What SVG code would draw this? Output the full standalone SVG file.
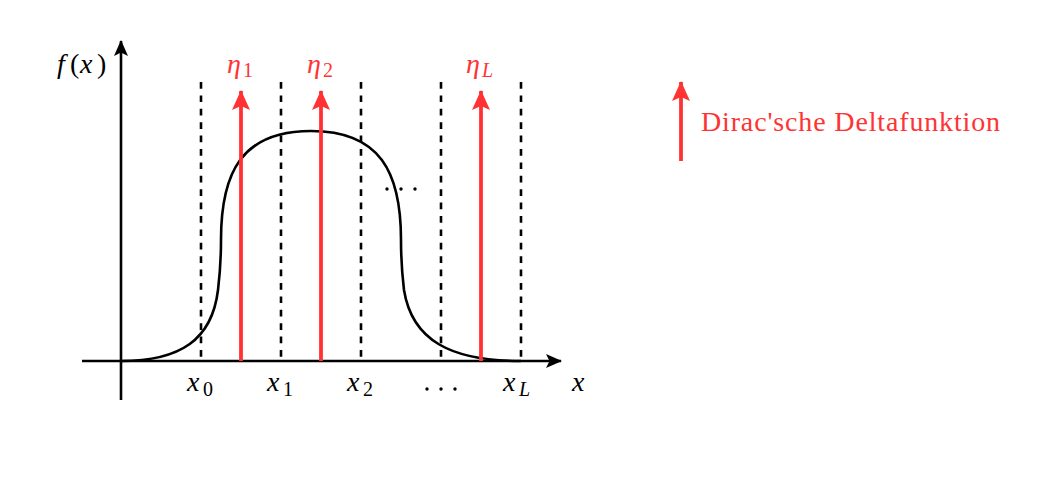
<svg xmlns="http://www.w3.org/2000/svg" width="1043" height="483" viewBox="0 0 1043 483">
<style>
.ax{stroke:#000;stroke-width:2.6;fill:none}
.dash{stroke:#000;stroke-width:2.6;stroke-dasharray:6.7 6.7;fill:none}
.red{stroke:#ff3333;stroke-width:3.8;fill:none}
.m{font-family:"Liberation Serif","DejaVu Serif",serif;font-style:italic;font-size:28px;fill:#000}
.n{font-family:"Liberation Serif","DejaVu Serif",serif;font-style:normal}
.s{font-size:20px}
.rt{fill:#ff3333}
</style>
<defs>
<marker id="ah" viewBox="0 0 16 14" refX="15" refY="7" markerWidth="16" markerHeight="14" markerUnits="userSpaceOnUse" orient="auto">
<path d="M0,0 L16,7 L0,14 L3.5,7 Z" fill="#000"/>
</marker>
<marker id="rh" viewBox="0 0 20 18" refX="19" refY="9" markerWidth="20" markerHeight="18" markerUnits="userSpaceOnUse" orient="auto">
<path d="M0,0 L20,9 L0,18 L4,9 Z" fill="#ff3333"/>
</marker>
</defs>
<g id="axes">
<line class="ax" x1="121" y1="400" x2="121" y2="41" marker-end="url(#ah)"/>
<line class="ax" x1="82" y1="361" x2="561" y2="361" marker-end="url(#ah)"/>
</g>
<g id="grid">
<line class="dash" x1="201" y1="82" x2="201" y2="361"/>
<line class="dash" x1="281" y1="82" x2="281" y2="361"/>
<line class="dash" x1="361" y1="82" x2="361" y2="361"/>
<line class="dash" x1="441" y1="82" x2="441" y2="361"/>
<line class="dash" x1="521" y1="82" x2="521" y2="361"/>
</g>
<g id="curve">
<path class="ax" d="M121,361 C180,361 212,340 218,290 C221,265 221,250 221,240 C221,172 242,131 311,131 C380,131 401,172 401,240 C401,250 401,265 404,290 C412,340 450,361 521,361"/>
</g>
<g id="deltas">
<line class="red" x1="241" y1="361" x2="241" y2="91" marker-end="url(#rh)"/>
<line class="red" x1="321" y1="361" x2="321" y2="91" marker-end="url(#rh)"/>
<line class="red" x1="481" y1="361" x2="481" y2="91" marker-end="url(#rh)"/>
</g>
<g id="labels">
<text class="m" y="73"><tspan x="57">f</tspan><tspan class="n" x="70">(</tspan><tspan x="80">x</tspan><tspan class="n" x="97">)</tspan></text>
<text class="m" x="572" y="391">x</text>
<text class="m" x="187" y="391">x<tspan class="n s" x="203" dy="5">0</tspan></text>
<text class="m" x="267" y="391">x<tspan class="n s" x="283" dy="5">1</tspan></text>
<text class="m" x="347" y="391">x<tspan class="n s" x="363" dy="5">2</tspan></text>
<text class="m" x="503" y="391">x<tspan class="s" x="519" dy="5">L</tspan></text>
<g fill="#000"><circle cx="427" cy="389" r="1.7"/><circle cx="441" cy="389" r="1.7"/><circle cx="455" cy="389" r="1.7"/></g>
<g fill="#000"><circle cx="387" cy="189" r="1.7"/><circle cx="401" cy="189" r="1.7"/><circle cx="415" cy="189" r="1.7"/></g>
<text class="m rt" x="227" y="73">η<tspan class="n s" x="243" dy="4">1</tspan></text>
<text class="m rt" x="307" y="73">η<tspan class="n s" x="323" dy="4">2</tspan></text>
<text class="m rt" x="466" y="73">η<tspan class="s" x="482" dy="4">L</tspan></text>
</g>
<g id="legend">
<line class="red" x1="681" y1="161" x2="681" y2="82" marker-end="url(#rh)"/>
<text x="701" y="131" font-family="Liberation Serif, serif" font-size="28" textLength="299" lengthAdjust="spacing" fill="#ff3333">Dirac'sche Deltafunktion</text>
</g>
</svg>
